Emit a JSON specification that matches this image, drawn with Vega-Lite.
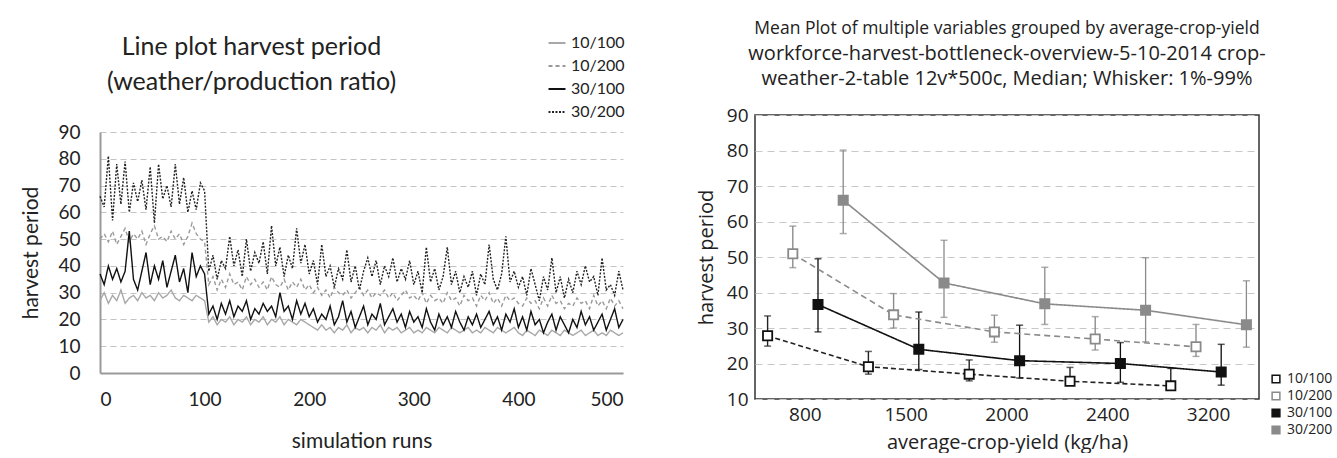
{
"$schema": "https://vega.github.io/schema/vega-lite/v6.json",
"background": "white",
"padding": {"left": 20, "top": 18, "right": 0, "bottom": 0},
"spacing": 57,
"config": {"font": "Lato", "view": {"stroke": null}},
"resolve": {"scale": {"x": "independent", "y": "independent", "color": "independent", "strokeDash": "independent", "fill": "independent", "stroke": "independent", "strokeWidth": "independent"}, "legend": {"color": "independent", "strokeDash": "independent", "fill": "independent", "stroke": "independent"}},
"datasets": {
"runs": [
{"run":0,"10/100":27,"10/200":50,"30/100":37,"30/200":66},
{"run":4,"10/100":30,"10/200":52,"30/100":33,"30/200":62},
{"run":8,"10/100":26,"10/200":49,"30/100":40,"30/200":81},
{"run":12,"10/100":29,"10/200":53,"30/100":35,"30/200":57},
{"run":16,"10/100":27,"10/200":48,"30/100":39,"30/200":78},
{"run":20,"10/100":31,"10/200":51,"30/100":34,"30/200":63},
{"run":24,"10/100":26,"10/200":54,"30/100":38,"30/200":79},
{"run":28,"10/100":28,"10/200":49,"30/100":53,"30/200":60},
{"run":32,"10/100":29,"10/200":52,"30/100":35,"30/200":71},
{"run":36,"10/100":27,"10/200":50,"30/100":31,"30/200":64},
{"run":40,"10/100":30,"10/200":53,"30/100":38,"30/200":72},
{"run":44,"10/100":28,"10/200":48,"30/100":45,"30/200":61},
{"run":48,"10/100":29,"10/200":52,"30/100":33,"30/200":77},
{"run":52,"10/100":27,"10/200":55,"30/100":40,"30/200":56},
{"run":56,"10/100":30,"10/200":50,"30/100":35,"30/200":78},
{"run":60,"10/100":28,"10/200":51,"30/100":42,"30/200":65},
{"run":64,"10/100":29,"10/200":49,"30/100":32,"30/200":70},
{"run":68,"10/100":31,"10/200":53,"30/100":38,"30/200":62},
{"run":72,"10/100":28,"10/200":50,"30/100":44,"30/200":78},
{"run":76,"10/100":27,"10/200":52,"30/100":34,"30/200":63},
{"run":80,"10/100":29,"10/200":48,"30/100":39,"30/200":73},
{"run":84,"10/100":28,"10/200":51,"30/100":30,"30/200":60},
{"run":88,"10/100":27,"10/200":56,"30/100":45,"30/200":68},
{"run":92,"10/100":29,"10/200":52,"30/100":36,"30/200":61},
{"run":96,"10/100":28,"10/200":50,"30/100":40,"30/200":71},
{"run":100,"10/100":27,"10/200":49,"30/100":37,"30/200":68},
{"run":104,"10/100":19,"10/200":33,"30/100":22,"30/200":38},
{"run":108,"10/100":21,"10/200":36,"30/100":25,"30/200":44},
{"run":112,"10/100":18,"10/200":31,"30/100":20,"30/200":35},
{"run":116,"10/100":20,"10/200":35,"30/100":26,"30/200":42},
{"run":120,"10/100":19,"10/200":32,"30/100":22,"30/200":39},
{"run":124,"10/100":21,"10/200":37,"30/100":27,"30/200":51},
{"run":128,"10/100":18,"10/200":33,"30/100":21,"30/200":40},
{"run":132,"10/100":20,"10/200":34,"30/100":25,"30/200":46},
{"run":136,"10/100":19,"10/200":31,"30/100":23,"30/200":36},
{"run":140,"10/100":21,"10/200":36,"30/100":27,"30/200":50},
{"run":144,"10/100":18,"10/200":33,"30/100":20,"30/200":38},
{"run":148,"10/100":20,"10/200":35,"30/100":24,"30/200":45},
{"run":152,"10/100":19,"10/200":32,"30/100":22,"30/200":41},
{"run":156,"10/100":21,"10/200":34,"30/100":26,"30/200":49},
{"run":160,"10/100":18,"10/200":31,"30/100":23,"30/200":37},
{"run":164,"10/100":20,"10/200":36,"30/100":25,"30/200":55},
{"run":168,"10/100":19,"10/200":33,"30/100":21,"30/200":40},
{"run":172,"10/100":21,"10/200":32,"30/100":30,"30/200":47},
{"run":176,"10/100":18,"10/200":35,"30/100":23,"30/200":36},
{"run":180,"10/100":20,"10/200":31,"30/100":25,"30/200":44},
{"run":184,"10/100":19,"10/200":34,"30/100":20,"30/200":39},
{"run":188,"10/100":18,"10/200":32,"30/100":27,"30/200":54},
{"run":192,"10/100":20,"10/200":35,"30/100":22,"30/200":41},
{"run":196,"10/100":19,"10/200":31,"30/100":26,"30/200":48},
{"run":200,"10/100":18,"10/200":33,"30/100":21,"30/200":37},
{"run":204,"10/100":17,"10/200":30,"30/100":24,"30/200":42},
{"run":208,"10/100":16,"10/200":32,"30/100":19,"30/200":33},
{"run":212,"10/100":18,"10/200":29,"30/100":22,"30/200":48},
{"run":216,"10/100":16,"10/200":31,"30/100":20,"30/200":36},
{"run":220,"10/100":17,"10/200":28,"30/100":25,"30/200":40},
{"run":224,"10/100":15,"10/200":32,"30/100":18,"30/200":32},
{"run":228,"10/100":17,"10/200":30,"30/100":21,"30/200":39},
{"run":232,"10/100":16,"10/200":29,"30/100":27,"30/200":35},
{"run":236,"10/100":18,"10/200":31,"30/100":19,"30/200":46},
{"run":240,"10/100":15,"10/200":28,"30/100":23,"30/200":34},
{"run":244,"10/100":17,"10/200":30,"30/100":17,"30/200":40},
{"run":248,"10/100":16,"10/200":32,"30/100":21,"30/200":31},
{"run":252,"10/100":17,"10/200":29,"30/100":25,"30/200":38},
{"run":256,"10/100":15,"10/200":31,"30/100":18,"30/200":43},
{"run":260,"10/100":17,"10/200":28,"30/100":22,"30/200":36},
{"run":264,"10/100":16,"10/200":30,"30/100":20,"30/200":42},
{"run":268,"10/100":18,"10/200":29,"30/100":26,"30/200":33},
{"run":272,"10/100":15,"10/200":31,"30/100":18,"30/200":40},
{"run":276,"10/100":17,"10/200":28,"30/100":21,"30/200":36},
{"run":280,"10/100":16,"10/200":30,"30/100":24,"30/200":43},
{"run":284,"10/100":17,"10/200":27,"30/100":19,"30/200":34},
{"run":288,"10/100":15,"10/200":29,"30/100":22,"30/200":39},
{"run":292,"10/100":16,"10/200":31,"30/100":17,"30/200":35},
{"run":296,"10/100":17,"10/200":28,"30/100":23,"30/200":42},
{"run":300,"10/100":15,"10/200":29,"30/100":19,"30/200":33},
{"run":304,"10/100":16,"10/200":27,"30/100":21,"30/200":38},
{"run":308,"10/100":15,"10/200":30,"30/100":17,"30/200":30},
{"run":312,"10/100":17,"10/200":26,"30/100":24,"30/200":47},
{"run":316,"10/100":16,"10/200":29,"30/100":19,"30/200":34},
{"run":320,"10/100":15,"10/200":27,"30/100":16,"30/200":39},
{"run":324,"10/100":17,"10/200":28,"30/100":22,"30/200":31},
{"run":328,"10/100":16,"10/200":26,"30/100":18,"30/200":36},
{"run":332,"10/100":15,"10/200":30,"30/100":21,"30/200":47},
{"run":336,"10/100":17,"10/200":27,"30/100":17,"30/200":33},
{"run":340,"10/100":16,"10/200":28,"30/100":23,"30/200":38},
{"run":344,"10/100":15,"10/200":25,"30/100":19,"30/200":30},
{"run":348,"10/100":16,"10/200":29,"30/100":16,"30/200":36},
{"run":352,"10/100":17,"10/200":27,"30/100":21,"30/200":32},
{"run":356,"10/100":15,"10/200":28,"30/100":18,"30/200":38},
{"run":360,"10/100":16,"10/200":25,"30/100":22,"30/200":29},
{"run":364,"10/100":15,"10/200":29,"30/100":17,"30/200":37},
{"run":368,"10/100":17,"10/200":27,"30/100":20,"30/200":33},
{"run":372,"10/100":16,"10/200":30,"30/100":23,"30/200":48},
{"run":376,"10/100":15,"10/200":26,"30/100":18,"30/200":35},
{"run":380,"10/100":17,"10/200":28,"30/100":21,"30/200":31},
{"run":384,"10/100":16,"10/200":25,"30/100":16,"30/200":37},
{"run":388,"10/100":15,"10/200":29,"30/100":22,"30/200":51},
{"run":392,"10/100":16,"10/200":27,"30/100":19,"30/200":34},
{"run":396,"10/100":17,"10/200":28,"30/100":24,"30/200":38},
{"run":400,"10/100":15,"10/200":26,"30/100":17,"30/200":32},
{"run":404,"10/100":14,"10/200":25,"30/100":21,"30/200":36},
{"run":408,"10/100":16,"10/200":28,"30/100":16,"30/200":29},
{"run":412,"10/100":15,"10/200":26,"30/100":23,"30/200":39},
{"run":416,"10/100":14,"10/200":27,"30/100":18,"30/200":33},
{"run":420,"10/100":16,"10/200":24,"30/100":20,"30/200":27},
{"run":424,"10/100":15,"10/200":28,"30/100":15,"30/200":36},
{"run":428,"10/100":14,"10/200":25,"30/100":19,"30/200":31},
{"run":432,"10/100":16,"10/200":29,"30/100":22,"30/200":43},
{"run":436,"10/100":15,"10/200":26,"30/100":16,"30/200":30},
{"run":440,"10/100":14,"10/200":27,"30/100":21,"30/200":36},
{"run":444,"10/100":16,"10/200":24,"30/100":18,"30/200":28},
{"run":448,"10/100":15,"10/200":26,"30/100":15,"30/200":35},
{"run":452,"10/100":14,"10/200":25,"30/100":20,"30/200":30},
{"run":456,"10/100":15,"10/200":28,"30/100":17,"30/200":38},
{"run":460,"10/100":16,"10/200":26,"30/100":23,"30/200":33},
{"run":464,"10/100":14,"10/200":27,"30/100":18,"30/200":40},
{"run":468,"10/100":15,"10/200":24,"30/100":21,"30/200":34},
{"run":472,"10/100":16,"10/200":29,"30/100":16,"30/200":36},
{"run":476,"10/100":14,"10/200":25,"30/100":19,"30/200":29},
{"run":480,"10/100":15,"10/200":27,"30/100":22,"30/200":43},
{"run":484,"10/100":14,"10/200":24,"30/100":16,"30/200":31},
{"run":488,"10/100":16,"10/200":28,"30/100":20,"30/200":33},
{"run":492,"10/100":15,"10/200":25,"30/100":24,"30/200":29},
{"run":496,"10/100":14,"10/200":27,"30/100":17,"30/200":38},
{"run":500,"10/100":15,"10/200":24,"30/100":20,"30/200":31}
],
"means": [
{"yield":"800","series":"10/100","key":"10/100","med":27.8,"lo":24.9,"hi":33.4},
{"yield":"1500","series":"10/100","key":"10/100","med":19.1,"lo":17,"hi":23.4},
{"yield":"2000","series":"10/100","key":"10/100","med":17,"lo":15.1,"hi":21},
{"yield":"2400","series":"10/100","key":"10/100","med":15,"lo":14.3,"hi":18.9},
{"yield":"3200","series":"10/100","key":"10/100","med":13.7,"lo":13,"hi":18.6},
{"yield":"800","series":"10/200","key":"10/200","med":50.9,"lo":47,"hi":58.7},
{"yield":"1500","series":"10/200","key":"10/200","med":33.7,"lo":30,"hi":39.7},
{"yield":"2000","series":"10/200","key":"10/200","med":28.9,"lo":26,"hi":33.6},
{"yield":"2400","series":"10/200","key":"10/200","med":26.9,"lo":23.8,"hi":33.2},
{"yield":"3200","series":"10/200","key":"10/200","med":24.7,"lo":22,"hi":31},
{"yield":"800","series":"30/100","key":"30/100","med":36.6,"lo":28.9,"hi":49.5},
{"yield":"1500","series":"30/100","key":"30/100","med":24,"lo":18.3,"hi":34.5},
{"yield":"2000","series":"30/100","key":"30/100","med":20.8,"lo":15.9,"hi":30.8},
{"yield":"2400","series":"30/100","key":"30/100","med":20,"lo":14.7,"hi":25.9},
{"yield":"3200","series":"30/100","key":"30/100","med":17.6,"lo":13.9,"hi":25.4},
{"yield":"800","series":"30/200","key":"30/200","med":66,"lo":56.6,"hi":80.1},
{"yield":"1500","series":"30/200","key":"30/200","med":42.7,"lo":33,"hi":54.7},
{"yield":"2000","series":"30/200","key":"30/200","med":36.8,"lo":31,"hi":47.1},
{"yield":"2400","series":"30/200","key":"30/200","med":35,"lo":26.1,"hi":49.8},
{"yield":"3200","series":"30/200","key":"30/200","med":30.9,"lo":24.6,"hi":43.3}
]
},
"hconcat": [
{
"width": 523, "height": 258,
"data": {"name": "runs"},
"transform": [{"fold": ["10/100","10/200","30/100","30/200"], "as": ["series","value"]}],
"title": {"text": ["Line plot harvest period","(weather/production ratio)"], "font": "Lato", "fontSize": 25, "fontWeight": "normal", "color": "#222", "anchor": "middle", "dx": -110, "lineHeight": 35, "offset": -75},
"mark": {"type": "line", "strokeWidth": 1.4},
"encoding": {
"x": {"field": "run", "type": "quantitative", "scale": {"domain": [0,500], "nice": false},
 "axis": {"values": [0,100,200,300,400,500], "title": "simulation runs", "grid": false, "ticks": false, "labelFont": "Lato", "labelFontSize": 19, "labelColor": "#222", "labelPadding": 17, "titleFont": "Lato", "titleFontSize": 21, "titleFontWeight": "normal", "titleColor": "#222", "titlePadding": 21, "domainColor": "#9a9a9a", "domainWidth": 2}},
"y": {"field": "value", "type": "quantitative", "scale": {"domain": [0,90], "nice": false, "range": [258,17]},
 "axis": {"values": [0,10,20,30,40,50,60,70,80,90], "title": "harvest period", "grid": true, "gridDash": [6,4], "gridColor": "#c4c4c4", "gridWidth": 1.2, "ticks": false, "labelFont": "Lato", "labelFontSize": 19, "labelColor": "#222", "labelPadding": 20, "titleFont": "Lato", "titleFontSize": 21, "titleFontWeight": "normal", "titleColor": "#222", "titlePadding": 16, "domainColor": "#9a9a9a", "domainWidth": 2}},
"color": {"field": "series", "type": "nominal", "scale": {"domain": ["10/100","10/200","30/100","30/200"], "range": ["#a8a8a8","#9a9a9a","#111111","#222222"]},
 "legend": {"title": null, "orient": "none", "legendX": 434, "legendY": -95, "padding": 13, "symbolType": "stroke", "symbolSize": 289, "symbolStrokeWidth": 2.2, "labelFont": "Lato", "labelFontSize": 16, "labelColor": "#222", "rowPadding": 5}},
"strokeDash": {"field": "series", "type": "nominal", "scale": {"domain": ["10/100","10/200","30/100","30/200"], "range": [[1,0],[4,3],[1,0],[2,1.5]]},
 "legend": {"title": null, "orient": "none", "legendX": 434, "legendY": -95, "padding": 13, "symbolType": "stroke", "symbolSize": 289, "symbolStrokeWidth": 2.2, "labelFont": "Lato", "labelFontSize": 16, "labelColor": "#222", "rowPadding": 5}}
}
},
{
"width": 504, "height": 284,
"data": {"name": "means"},
"title": {"text": "Mean Plot of multiple variables grouped by  average-crop-yield", "subtitle": ["workforce-harvest-bottleneck-overview-5-10-2014 crop-","weather-2-table 12v*500c, Median; Whisker:  1%-99%"], "font": "Open Sans", "fontSize": 17.5, "fontWeight": "normal", "color": "#222", "subtitleFont": "Open Sans", "subtitleFontSize": 20, "subtitleColor": "#222", "subtitleLineHeight": 25, "subtitlePadding": 7, "anchor": "middle", "offset": 17},
"view": {"stroke": "#333333", "strokeWidth": 1.5},
"resolve": {"scale": {"color": "shared", "y": "shared"}},
"encoding": {
"x": {"field": "yield", "type": "nominal", "sort": ["800","1500","2000","2400","3200"], "scale": {"paddingInner": 0, "paddingOuter": 0},
 "axis": {"title": "average-crop-yield (kg/ha)", "labelAngle": 0, "ticks": false, "domain": false, "labelFont": "Open Sans", "labelFontSize": 19, "labelColor": "#222", "labelPadding": 6, "titleFont": "Open Sans", "titleFontSize": 20, "titleFontWeight": "normal", "titleColor": "#222", "titlePadding": 8}},
"xOffset": {"field": "series", "type": "nominal", "sort": ["10/100","10/200","30/100","30/200"], "scale": {"paddingInner": 0, "paddingOuter": 0}}
},
"layer": [
{"mark": {"type": "rule"},
 "encoding": {
 "y": {"field": "lo", "type": "quantitative", "scale": {"domain": [10,90], "nice": false},
  "axis": {"values": [10,20,30,40,50,60,70,80,90], "title": "harvest period", "grid": true, "gridDash": [7,5], "gridColor": "#c8c8c8", "gridWidth": 1.2, "ticks": false, "domain": false, "labelOverlap": false, "labelFont": "Open Sans", "labelFontSize": 19, "labelColor": "#222", "labelPadding": 7, "titleFont": "Open Sans", "titleFontSize": 20, "titleFontWeight": "normal", "titleColor": "#222", "titlePadding": 10}},
 "y2": {"field": "hi"},
 "color": {"field": "series", "type": "nominal", "scale": {"domain": ["10/100","10/200","30/100","30/200"], "range": ["#222222","#8a8a8a","#111111","#8a8a8a"]}, "legend": null},
 "strokeWidth": {"field": "series", "type": "nominal", "scale": {"domain": ["10/100","10/200","30/100","30/200"], "range": [1.4,1.3,2.2,1.4]}, "legend": null}
 }},
{"mark": {"type": "tick", "size": 7, "thickness": 1.5},
 "encoding": {"y": {"field": "lo", "type": "quantitative",
  "axis": {"values": [10,20,30,40,50,60,70,80,90], "title": "harvest period", "grid": true, "gridDash": [7,5], "gridColor": "#c8c8c8", "gridWidth": 1.2, "ticks": false, "domain": false, "labelOverlap": false, "labelFont": "Open Sans", "labelFontSize": 19, "labelColor": "#222", "labelPadding": 7, "titleFont": "Open Sans", "titleFontSize": 20, "titleFontWeight": "normal", "titleColor": "#222", "titlePadding": 10}},
 "color": {"field": "series", "type": "nominal", "legend": null}}},
{"mark": {"type": "tick", "size": 7, "thickness": 1.5},
 "encoding": {"y": {"field": "hi", "type": "quantitative",
  "axis": {"values": [10,20,30,40,50,60,70,80,90], "title": "harvest period", "grid": true, "gridDash": [7,5], "gridColor": "#c8c8c8", "gridWidth": 1.2, "ticks": false, "domain": false, "labelOverlap": false, "labelFont": "Open Sans", "labelFontSize": 19, "labelColor": "#222", "labelPadding": 7, "titleFont": "Open Sans", "titleFontSize": 20, "titleFontWeight": "normal", "titleColor": "#222", "titlePadding": 10}},
 "color": {"field": "series", "type": "nominal", "legend": null}}},
{"mark": {"type": "line", "strokeWidth": 1.6},
 "encoding": {"y": {"field": "med", "type": "quantitative",
  "axis": {"values": [10,20,30,40,50,60,70,80,90], "title": "harvest period", "grid": true, "gridDash": [7,5], "gridColor": "#c8c8c8", "gridWidth": 1.2, "ticks": false, "domain": false, "labelOverlap": false, "labelFont": "Open Sans", "labelFontSize": 19, "labelColor": "#222", "labelPadding": 7, "titleFont": "Open Sans", "titleFontSize": 20, "titleFontWeight": "normal", "titleColor": "#222", "titlePadding": 10}},
 "color": {"field": "series", "type": "nominal", "legend": null},
 "strokeDash": {"field": "series", "type": "nominal", "scale": {"domain": ["10/100","10/200","30/100","30/200"], "range": [[5,3],[6,4],[1,0],[1,0]]}, "legend": null}}},
{"mark": {"type": "point", "shape": "square", "size": 85, "filled": true, "strokeWidth": 1.8, "opacity": 1},
 "encoding": {"y": {"field": "med", "type": "quantitative",
  "axis": {"values": [10,20,30,40,50,60,70,80,90], "title": "harvest period", "grid": true, "gridDash": [7,5], "gridColor": "#c8c8c8", "gridWidth": 1.2, "ticks": false, "domain": false, "labelOverlap": false, "labelFont": "Open Sans", "labelFontSize": 19, "labelColor": "#222", "labelPadding": 7, "titleFont": "Open Sans", "titleFontSize": 20, "titleFontWeight": "normal", "titleColor": "#222", "titlePadding": 10}},
 "fill": {"field": "key", "type": "nominal", "scale": {"range": ["#ffffff","#ffffff","#111111","#8a8a8a"]},
  "legend": {"title": null, "orient": "none", "legendX": 514, "legendY": 257, "symbolType": "square", "symbolSize": 60, "symbolStrokeWidth": 1.5, "labelFont": "Open Sans", "labelFontSize": 14, "labelColor": "#222", "rowPadding": 3}},
 "stroke": {"field": "key", "type": "nominal", "scale": {"range": ["#111111","#8a8a8a","#111111","#8a8a8a"]},
  "legend": {"title": null, "orient": "none", "legendX": 514, "legendY": 257, "symbolType": "square", "symbolSize": 60, "symbolStrokeWidth": 1.5, "labelFont": "Open Sans", "labelFontSize": 14, "labelColor": "#222", "rowPadding": 3}}}}
]
}
]
}
